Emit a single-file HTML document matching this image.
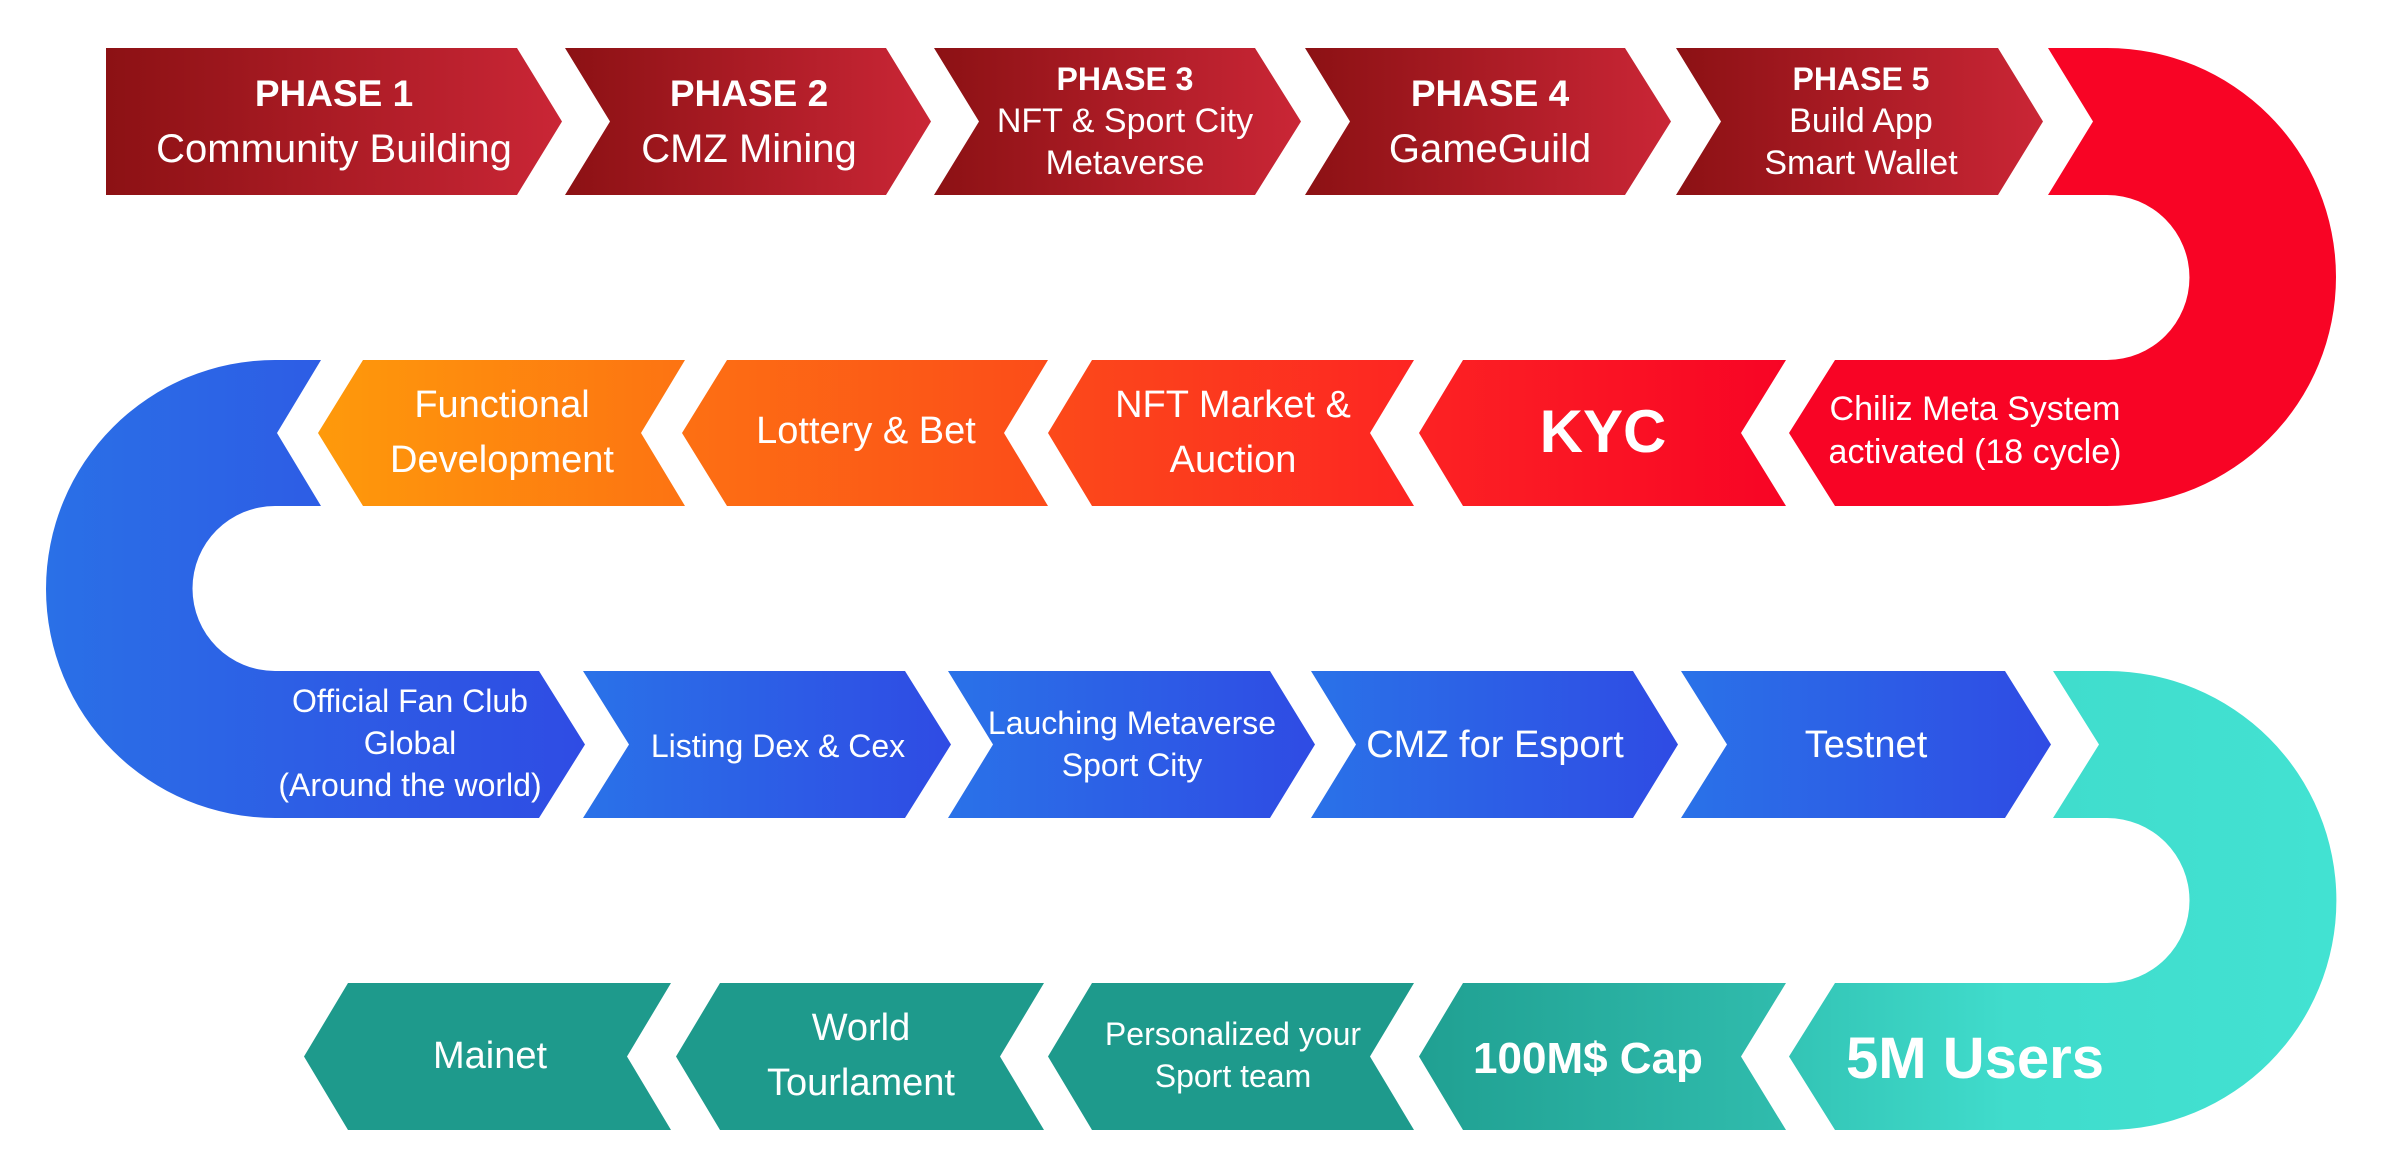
<!DOCTYPE html>
<html><head><meta charset="utf-8"><style>
html,body{margin:0;padding:0;background:#fff;}
svg{display:block;}
text{font-family:"Liberation Sans Narrow","Liberation Sans",sans-serif;fill:#fff;text-anchor:middle;}
.b{font-weight:bold;font-family:"Liberation Sans","DejaVu Sans",sans-serif;}
</style></head><body>
<svg width="2382" height="1176" viewBox="0 0 2382 1176">
<defs>
<linearGradient id="gR1" x1="0" x2="1"><stop offset="0" stop-color="#8c1114"/><stop offset="1" stop-color="#ca2636"/></linearGradient>
<linearGradient id="gF" x1="0" x2="1"><stop offset="0" stop-color="#fe9a0b"/><stop offset="1" stop-color="#fd7312"/></linearGradient>
<linearGradient id="gL" x1="0" x2="1"><stop offset="0" stop-color="#fd7013"/><stop offset="1" stop-color="#fc4c19"/></linearGradient>
<linearGradient id="gN" x1="0" x2="1"><stop offset="0" stop-color="#fc4a1a"/><stop offset="1" stop-color="#fd2522"/></linearGradient>
<linearGradient id="gK" x1="0" x2="1"><stop offset="0" stop-color="#fc2223"/><stop offset="1" stop-color="#f80425"/></linearGradient>
<linearGradient id="gB" x1="0" x2="1"><stop offset="0" stop-color="#2a72e8"/><stop offset="1" stop-color="#2f4be4"/></linearGradient>
<linearGradient id="gBA" x1="0" x2="1"><stop offset="0" stop-color="#2a70e7"/><stop offset="0.45" stop-color="#2d5fe5"/><stop offset="1" stop-color="#2f4ce4"/></linearGradient>
<linearGradient id="gC" x1="0" x2="1"><stop offset="0" stop-color="#20a092"/><stop offset="1" stop-color="#30bcad"/></linearGradient>
<linearGradient id="gT" x1="0" x2="1"><stop offset="0" stop-color="#33c4b5"/><stop offset="0.4" stop-color="#40dccc"/><stop offset="1" stop-color="#42e2d2"/></linearGradient>
</defs>

<!-- Row 1 -->
<path fill="url(#gR1)" d="M106,48 L517,48 L562,121.5 L517,195 L106,195 Z"/>
<path fill="url(#gR1)" d="M565,48 L886,48 L931,121.5 L886,195 L565,195 L610,121.5 Z"/>
<path fill="url(#gR1)" d="M934,48 L1255,48 L1301,121.5 L1255,195 L934,195 L979,121.5 Z"/>
<path fill="url(#gR1)" d="M1305,48 L1625,48 L1671,121.5 L1625,195 L1305,195 L1350,121.5 Z"/>
<path fill="url(#gR1)" d="M1676,48 L1998,48 L2043,121.5 L1998,195 L1676,195 L1721,121.5 Z"/>

<!-- Red arc + Chiliz -->
<path fill="#f80425" d="M2048,48 L2093,121.5 L2048,195 L2107,195 A82,82 0 0 1 2107,360 L1835,360 L1789,433 L1835,506 L2107,506 A229,229 0 0 0 2107,48 Z"/>

<!-- Row 2 -->
<path fill="url(#gK)" d="M1463,360 L1786,360 L1741,433 L1786,506 L1463,506 L1419,433 Z"/>
<path fill="url(#gN)" d="M1092,360 L1414,360 L1370,433 L1414,506 L1092,506 L1048,433 Z"/>
<path fill="url(#gL)" d="M727,360 L1048,360 L1004,433 L1048,506 L727,506 L682,433 Z"/>
<path fill="url(#gF)" d="M363,360 L685,360 L641,433 L685,506 L363,506 L318,433 Z"/>

<!-- Blue arc + fan club -->
<path fill="url(#gBA)" d="M321,360 L277,433 L321,506 L275,506 A82,82 0 0 0 275,671 L539,671 L585,744.5 L539,818 L275,818 A229,229 0 0 1 275,360 Z"/>

<!-- Row 3 -->
<path fill="url(#gB)" d="M583,671 L905,671 L951,744.5 L905,818 L583,818 L629,744.5 Z"/>
<path fill="url(#gB)" d="M948,671 L1270,671 L1315,744.5 L1270,818 L948,818 L993,744.5 Z"/>
<path fill="url(#gB)" d="M1311,671 L1633,671 L1678,744.5 L1633,818 L1311,818 L1356,744.5 Z"/>
<path fill="url(#gB)" d="M1681,671 L2005,671 L2051,744.5 L2005,818 L1681,818 L1727,744.5 Z"/>

<!-- Teal arc + 5M -->
<path fill="url(#gT)" d="M2053,671 L2099,744.5 L2053,818 L2107,818 A82,82 0 0 1 2107,983 L1835,983 L1789,1056.5 L1835,1130 L2107,1130 A229,229 0 0 0 2107,671 Z"/>

<!-- Row 4 -->
<path fill="url(#gC)" d="M1463,983 L1786,983 L1741,1056.5 L1786,1130 L1463,1130 L1419,1056.5 Z"/>
<path fill="#1e9a8c" d="M1092,983 L1414,983 L1370,1056.5 L1414,1130 L1092,1130 L1048,1056.5 Z"/>
<path fill="#1e9a8c" d="M720,983 L1044,983 L1000,1056.5 L1044,1130 L720,1130 L676,1056.5 Z"/>
<path fill="#1e9a8c" d="M348,983 L671,983 L627,1056.5 L671,1130 L348,1130 L304,1056.5 Z"/>

<!-- Texts -->
<text class="b" x="334" y="106" font-size="37">PHASE 1</text>
<text x="334" y="162" font-size="40">Community Building</text>
<text class="b" x="749" y="106" font-size="37">PHASE 2</text>
<text x="749" y="162" font-size="40">CMZ Mining</text>
<text class="b" x="1125" y="90" font-size="32">PHASE 3</text>
<text x="1125" y="132" font-size="34">NFT &amp; Sport City</text>
<text x="1125" y="174" font-size="34">Metaverse</text>
<text class="b" x="1490" y="106" font-size="37">PHASE 4</text>
<text x="1490" y="162" font-size="40">GameGuild</text>
<text class="b" x="1861" y="90" font-size="32">PHASE 5</text>
<text x="1861" y="132" font-size="34">Build App</text>
<text x="1861" y="174" font-size="34">Smart Wallet</text>

<text x="1975" y="420" font-size="34">Chiliz Meta System</text>
<text x="1975" y="463" font-size="34">activated (18 cycle)</text>
<text class="b" x="1603" y="452" font-size="60">KYC</text>
<text x="1233" y="417" font-size="38">NFT Market &amp;</text>
<text x="1233" y="472" font-size="38">Auction</text>
<text x="866" y="443" font-size="38">Lottery &amp; Bet</text>
<text x="502" y="417" font-size="38">Functional</text>
<text x="502" y="472" font-size="38">Development</text>

<text x="410" y="712" font-size="32">Official Fan Club</text>
<text x="410" y="754" font-size="32">Global</text>
<text x="410" y="796" font-size="32">(Around the world)</text>
<text x="778" y="757" font-size="32">Listing Dex &amp; Cex</text>
<text x="1132" y="734" font-size="32">Lauching Metaverse</text>
<text x="1132" y="776" font-size="32">Sport City</text>
<text x="1495" y="757" font-size="38">CMZ for Esport</text>
<text x="1866" y="757" font-size="38">Testnet</text>

<text class="b" x="1975" y="1078" font-size="58">5M Users</text>
<text class="b" x="1588" y="1073" font-size="44">100M$ Cap</text>
<text x="1233" y="1045" font-size="32">Personalized your</text>
<text x="1233" y="1087" font-size="32">Sport team</text>
<text x="861" y="1040" font-size="38">World</text>
<text x="861" y="1095" font-size="38">Tourlament</text>
<text x="490" y="1068" font-size="38">Mainet</text>
</svg>
</body></html>
